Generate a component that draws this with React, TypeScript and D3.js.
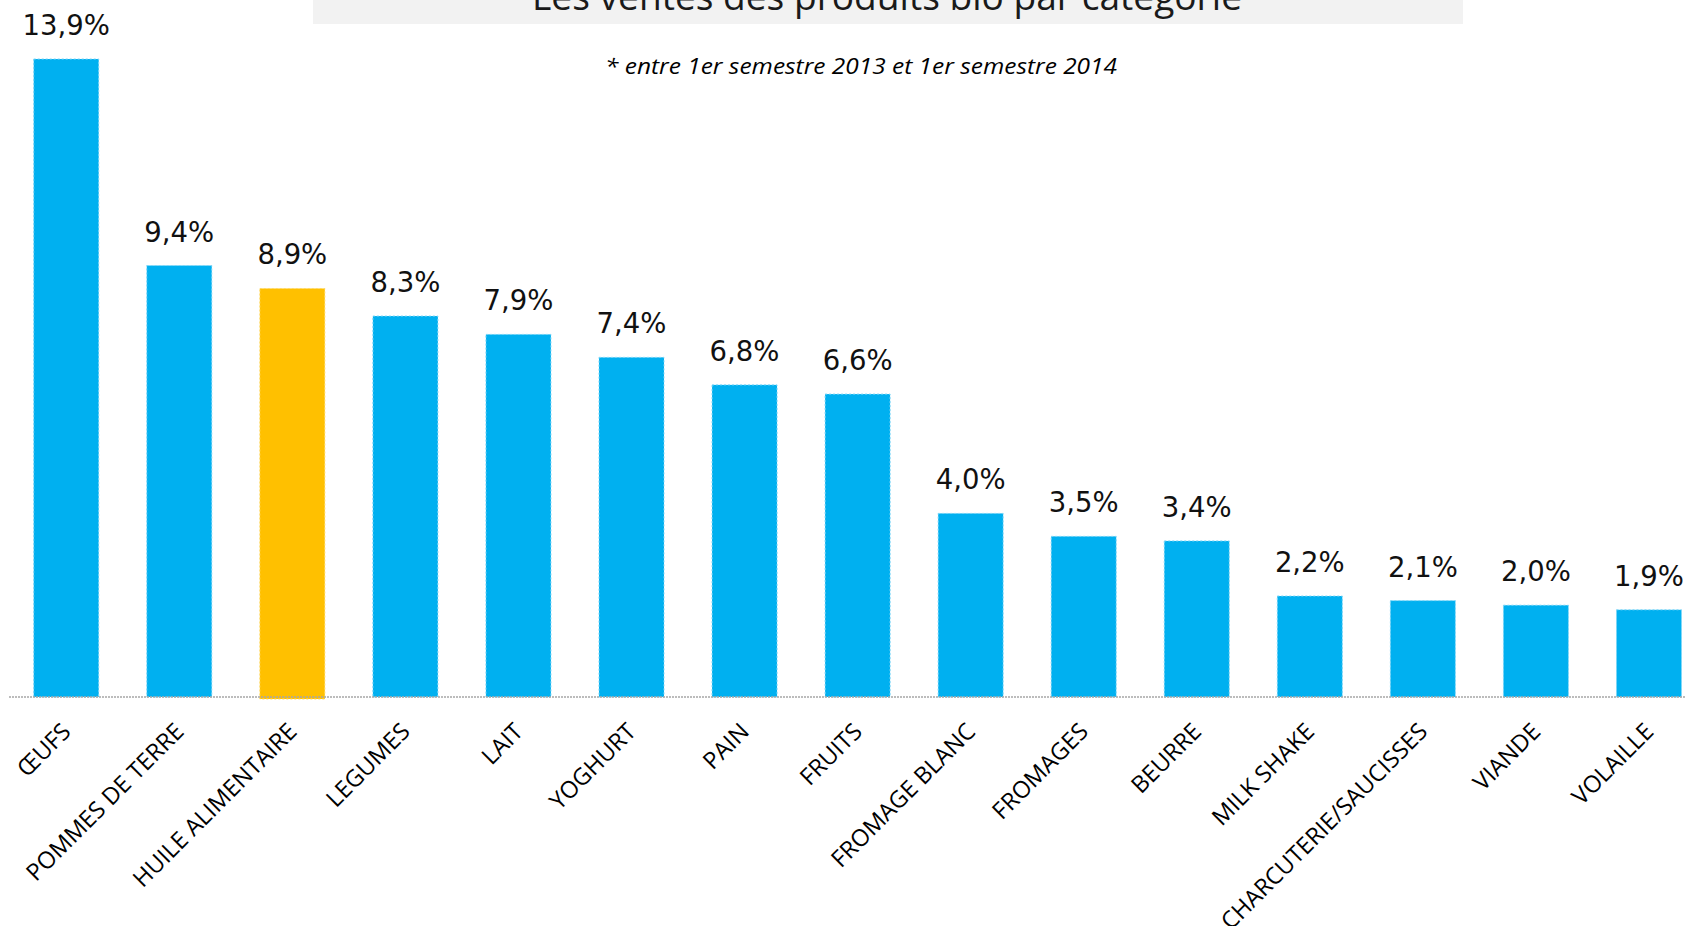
import React from "react";
import * as d3 from "d3";

const categories = [
  "ŒUFS",
  "POMMES DE TERRE",
  "HUILE ALIMENTAIRE",
  "LEGUMES",
  "LAIT",
  "YOGHURT",
  "PAIN",
  "FRUITS",
  "FROMAGE BLANC",
  "FROMAGES",
  "BEURRE",
  "MILK SHAKE",
  "CHARCUTERIE/SAUCISSES",
  "VIANDE",
  "VOLAILLE",
];
const values = [13.9, 9.4, 8.9, 8.3, 7.9, 7.4, 6.8, 6.6, 4.0, 3.5, 3.4, 2.2, 2.1, 2.0, 1.9];
const highlighted = ["HUILE ALIMENTAIRE"];
const title = "Les ventes des produits bio par catégorie";
const subtitle = "* entre 1er semestre 2013 et 1er semestre 2014";

const W = 1686;
const H = 926;
const AXIS_Y = 697;

export default function App() {
  const x = d3
    .scaleBand<string>()
    .domain(categories)
    .range([9.7, 1705.5])
    .paddingInner(0.425)
    .paddingOuter(0.2125);
  const y = d3.scaleLinear().domain([0, 13.9]).range([AXIS_Y, 59]);
  const fmt = (v: number) => v.toFixed(1).replace(".", ",") + "%";

  return (
    <svg
      width={W}
      height={H}
      style={{ position: "absolute", left: 0, top: 0, background: "#fff" }}
    >
      <rect x={313} y={0} width={1150} height={24} fill="#F2F2F2" />
      <text
        x={887}
        y={10}
        textAnchor="middle"
        fontFamily="'Open Sans', sans-serif"
        fontSize={37}
        fill="#1a1a1a"
        textLength={710}
        lengthAdjust="spacingAndGlyphs"
      >
        {title}
      </text>
      <text
        x={861}
        y={74}
        textAnchor="middle"
        fontFamily="'Open Sans', sans-serif"
        fontStyle="italic"
        fontSize={22}
        fill="#000"
        textLength={512}
        lengthAdjust="spacingAndGlyphs"
      >
        {subtitle}
      </text>

      {categories.map((c, i) => {
        const bx = x(c)!;
        const bw = x.bandwidth();
        const top = y(values[i]);
        const hl = highlighted.includes(c);
        return (
          <g key={c}>
            <rect
              x={bx}
              y={top}
              width={bw}
              height={AXIS_Y - top + (hl ? 2 : 0)}
              fill={hl ? "#FFC000" : "#00B0F0"}
              stroke={hl ? "#ffd966" : "#7fd6f7"}
              strokeWidth={1}
              strokeDasharray="2 2"
            />
            <text
              x={bx + bw / 2}
              y={top - 24}
              textAnchor="middle"
              fontFamily="'DejaVu Sans', sans-serif"
              fontSize={27.5}
              fill="#111"
            >
              {fmt(values[i])}
            </text>
          </g>
        );
      })}

      <line
        x1={9}
        x2={W}
        y1={AXIS_Y}
        y2={AXIS_Y}
        stroke="#a6a6a6"
        strokeWidth={1.5}
        strokeDasharray="2 1"
      />

      {categories.map((c) => {
        const cx = x(c)! + x.bandwidth() / 2 + 6;
        const cy = AXIS_Y + 36;
        return (
          <text
            key={"l" + c}
            x={cx}
            y={cy}
            transform={`rotate(-45 ${cx} ${cy})`}
            textAnchor="end"
            fontFamily="'Open Sans', sans-serif"
            fontSize={23.5}
            fill="#000"
          >
            {c}
          </text>
        );
      })}
    </svg>
  );
}
